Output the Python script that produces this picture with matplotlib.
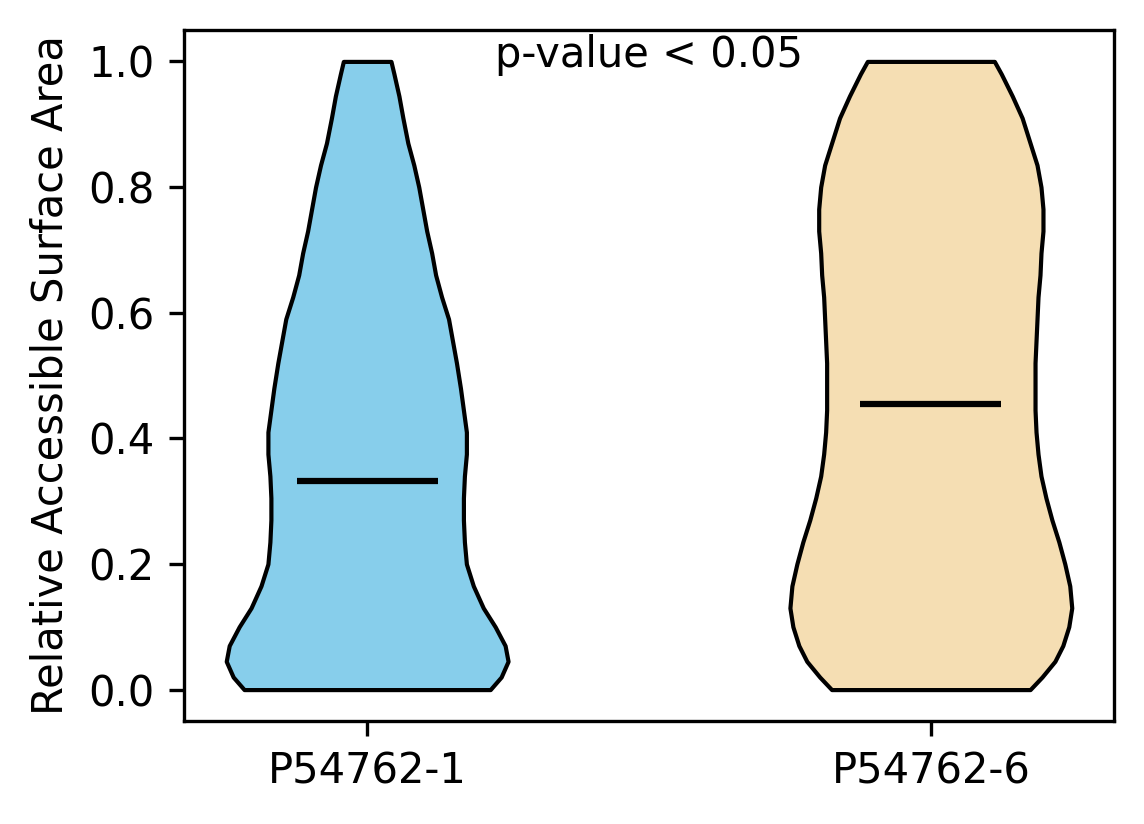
import numpy as np
import matplotlib
matplotlib.use("Agg")
import matplotlib.pyplot as plt

# Data
categories = ["P54762-1", "P54762-6"]
rsa_grid = [0.0, 0.02, 0.045, 0.07, 0.10, 0.13, 0.165, 0.20, 0.235, 0.27, 0.305,
            0.34, 0.375, 0.41, 0.445, 0.48, 0.52, 0.555, 0.59, 0.625, 0.66, 0.695,
            0.73, 0.765, 0.80, 0.835, 0.87, 0.91, 0.945, 0.98, 1.0]
density_1 = [124, 135, 142, 139, 129, 117, 107, 100, 98, 97, 97,
             98, 100, 100, 97, 94, 90, 86, 82, 75, 69, 65,
             60, 56, 52, 47, 41, 36, 32, 27, 24]
density_6 = [100, 112, 125, 133, 139, 142, 140, 135, 129, 122, 116,
             111, 108, 106, 105, 105, 105, 106, 107, 108, 110, 111,
             113, 113, 111, 107, 100, 92, 82, 71, 64]
means = [0.332, 0.454]
colors = ["#87CEEB", "#F5DEB3"]
annotation = "p-value < 0.05"

fig = plt.figure(figsize=(1144 / 300, 824 / 300), dpi=300)
ax = fig.add_axes([0.1608, 0.125, 0.9738 - 0.1608, 0.9636 - 0.125])

vpstats = []
for dens, m in zip([density_1, density_6], means):
    vpstats.append(dict(coords=np.array(rsa_grid), vals=np.array(dens, float),
                        mean=m, median=m, min=min(rsa_grid), max=max(rsa_grid)))

parts = ax.violin(vpstats, positions=[1, 2], widths=0.5,
                  showmeans=True, showextrema=False)
for body, c in zip(parts["bodies"], colors):
    body.set_facecolor(c)
    body.set_edgecolor("black")
    body.set_linewidth(1.0)
    body.set_alpha(1)
parts["cmeans"].set_color("black")
parts["cmeans"].set_linewidth(1.5)

ax.set_xticks([1, 2])
ax.set_xticklabels(categories)
ax.set_ylabel("Relative Accessible Surface Area")
ax.text(1.5, 1.01, annotation, ha="center", va="center")

fig.savefig("out.png", dpi=300)
